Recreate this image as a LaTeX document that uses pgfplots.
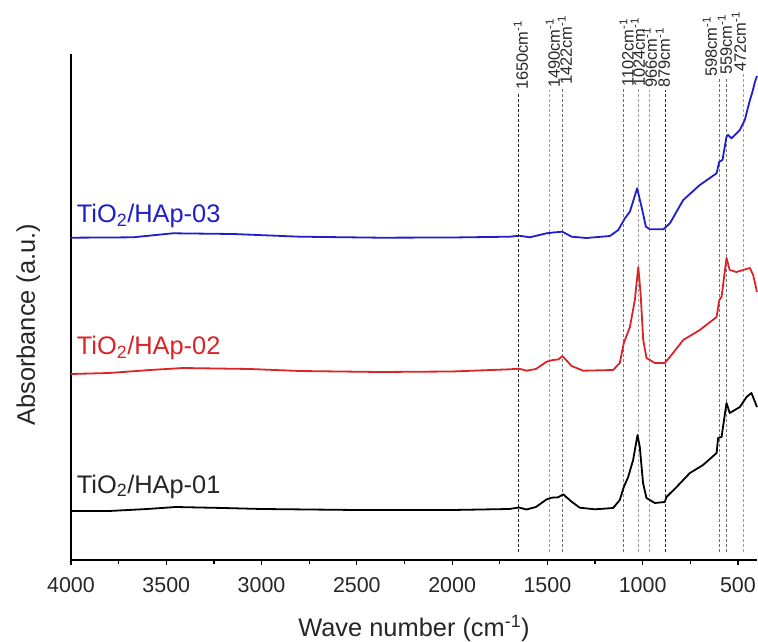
\documentclass[border=0pt]{standalone}
\usepackage{fontspec}
\setmainfont{Liberation Sans}
\usepackage{pgfplots}
\pgfplotsset{compat=1.18}
\definecolor{cblue}{RGB}{30,30,205}
\definecolor{cred}{RGB}{220,35,40}
\definecolor{dk}{RGB}{40,40,40}
\definecolor{md}{RGB}{110,110,110}
\definecolor{lt}{RGB}{160,160,160}
\tikzset{
 pk/.style={line width=1bp, dash pattern=on 3bp off 2bp},
 pl/.style={rotate=90, anchor=west, inner sep=0bp, text=dk, font=\fontsize{16.5}{18}\selectfont},
 sl/.style={anchor=base west, inner sep=0pt, font=\fontsize{25.5}{28}\selectfont},
}
\begin{document}
\begin{tikzpicture}
\begin{axis}[
 scale only axis, width=686bp, height=506bp,
 x dir=reverse, xmin=400, xmax=4000, ymin=0, ymax=506,
 axis x line*=bottom, axis y line*=left,
 axis line style={line width=1.2bp},
 xtick={500,1000,...,4000}, minor x tick num=1,
 ytick=\empty,
 tick align=outside, major tick length=5bp, minor tick length=3.5bp,
 tick style={line width=1.2bp, black},
 tick label style={font=\fontsize{21.5}{24}\selectfont, text=black!85},
 xticklabel style={yshift=-9bp},
 /pgf/number format/assume math mode=true,
 /pgf/number format/1000 sep={},
 xlabel={Wave number (cm\textsuperscript{-1})},
 ylabel={Absorbance (a.u.)},
 label style={font=\fontsize{25.5}{28}\selectfont, text=black!85},
 xlabel style={at={(axis description cs:0.5,0)}, anchor=base, yshift=-76bp},
 ylabel style={at={(axis description cs:-0.0525,0.465)}, anchor=base},
 clip=false,
]
% peak marker lines
\addplot[pk, dk] coordinates {(1650,8) (1650,468)};
\addplot[pk, lt] coordinates {(1490,8) (1490,470)};
\addplot[pk, md] coordinates {(1422,8) (1422,473)};
\addplot[pk, md] coordinates {(1102,8) (1102,471)};
\addplot[pk, lt] coordinates {(1024,8) (1024,471)};
\addplot[pk, lt] coordinates {(966,8) (966,470)};
\addplot[pk, dk] coordinates {(879,8) (879,470)};
\addplot[pk, md] coordinates {(598,8) (598,481)};
\addplot[pk, md] coordinates {(559,8) (559,483)};
\addplot[pk, lt] coordinates {(472,8) (472,486)};
\node[pl] at (axis cs:1639,470) {1650cm\textsuperscript{-1}};
\node[pl] at (axis cs:1471,472) {1490cm\textsuperscript{-1}};
\node[pl] at (axis cs:1408,475) {1422cm\textsuperscript{-1}};
\node[pl] at (axis cs:1084,473) {1102cm\textsuperscript{-1}};
\node[pl] at (axis cs:1025,473) {1024cm\textsuperscript{-1}};
\node[pl] at (axis cs:962,472) {966cm\textsuperscript{-1}};
\node[pl] at (axis cs:894,472) {879cm\textsuperscript{-1}};
\node[pl] at (axis cs:647,483) {598cm\textsuperscript{-1}};
\node[pl] at (axis cs:569,485) {559cm\textsuperscript{-1}};
\node[pl] at (axis cs:495,488) {472cm\textsuperscript{-1}};
% TiO2/HAp-01
\addplot[black, line width=1.8bp, line join=round] coordinates {
(4000,49) (3800,49) (3600,51) (3450,53) (3200,52) (3000,51) (2500,50) (2000,50)
(1700,51) (1650,52.5) (1610,50.5) (1560,53) (1505,60.5) (1478,62.3) (1443,62.7)
(1417,65.7) (1373,58.3) (1330,52.3) (1250,50.7) (1155,52) (1120,60) (1099,73)
(1076,83) (1050,100) (1027,125) (1015,113) (998,77) (980,62) (962,60) (936,57)
(884,58) (875,63) (822,73) (752,87) (683,95) (612,107) (604,122) (586,123)
(560,157) (543,147) (490,153) (455,163) (429,167) (400,153)};
% TiO2/HAp-02
\addplot[cred, line width=1.8bp, line join=round] coordinates {
(4000,186) (3800,187) (3585,190) (3412,192) (3061,191) (2800,189) (2379,188)
(2000,188.5) (1697,190.7) (1648,191.3) (1609,189.3) (1560,191) (1504,198.3)
(1470,200) (1443,200.5) (1421,204) (1373,194) (1312,189.3) (1155,190) (1120,197)
(1099,217) (1067,233) (1041,260) (1023,293) (1011,267) (997,220) (980,202)
(962,200) (936,197) (884,197) (857,203) (787,220) (700,230) (612,243) (598,260)
(586,263) (560,302) (543,290) (508,288) (473,290) (437,292) (420,285) (400,268)};
% TiO2/HAp-03
\addplot[cblue, line width=1.8bp, line join=round] coordinates {
(4000,322.3) (3800,322.5) (3674,322.7) (3465,326.7) (3150,326) (2800,323.3)
(2379,322.3) (2000,322.5) (1697,323.3) (1648,324.3) (1592,322.7) (1504,326.7)
(1470,327.5) (1421,328.3) (1373,323.3) (1295,322) (1172,324) (1128,330)
(1093,341.7) (1067,348.3) (1029,371.7) (1006,353.3) (983,333.3) (962,330.7)
(892,330.7) (857,336.7) (787,360) (700,375) (612,386.7) (598,398.3) (581,400)
(560,423.3) (551,425) (534,421.7) (490,430) (464,440) (437,460) (424,468)
(411,478) (400,484)};
\node[sl, text=cblue] at (axis cs:3970,337) {TiO\textsubscript{2}/HAp-03};
\node[sl, text=cred] at (axis cs:3970,205) {TiO\textsubscript{2}/HAp-02};
\node[sl, text=black!85] at (axis cs:3970,67) {TiO\textsubscript{2}/HAp-01};
\end{axis}
\pgfresetboundingbox
\path[use as bounding box] (-71bp,-82bp) rectangle (687bp,560bp);
\end{tikzpicture}
\end{document}
